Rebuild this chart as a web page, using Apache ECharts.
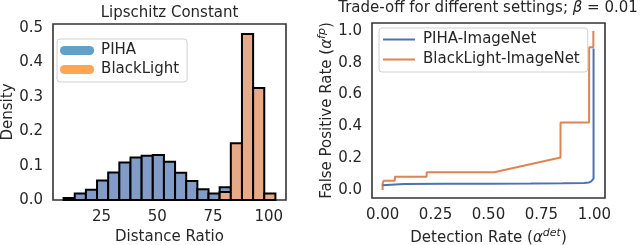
<!DOCTYPE html>
<html>
<head>
<meta charset="utf-8">
<script src="https://cdn.jsdelivr.net/npm/echarts@6/dist/echarts.min.js"></script>
<style>
html,body{margin:0;padding:0;background:#fff;}
#c{width:640px;height:245px;}
</style>
</head>
<body>
<div id="c"></div>
<script>
// ---------- Data: left histogram ----------
const binEdges = [8,13,18,23,28,33,38,43,48,53,58,63,68,73,78,83,88,93,98,103];
const pihaDensity = [0.006,0.019,0.030,0.057,0.080,0.109,0.124,0.129,0.131,0.111,0.079,0.055,0.031,0.019,0.037,0,0,0,0];
const blackLightDensity = [0,0,0,0,0,0,0,0,0,0,0,0,0,0,0.023,0.165,0.483,0.326,0.019];
const leftXTicks = [25,50,75,100];
const leftYTicks = [0,0.1,0.2,0.3,0.4,0.5];

// ---------- Data: right trade-off curves ----------
const pihaX = [0.0,0.005,0.1,0.3,0.5,0.7,0.85,0.95,0.975,0.985,0.992,0.996,0.996];
const pihaY = [0.030,0.037,0.038,0.039,0.040,0.041,0.043,0.045,0.048,0.055,0.065,0.072,0.890];
const blackX = [0.0,0.0,0.005,0.058,0.058,0.208,0.208,0.527,0.840,0.840,0.975,0.975,0.995,0.995];
const blackY = [0.0,0.040,0.058,0.058,0.083,0.083,0.112,0.112,0.205,0.425,0.425,0.897,0.897,1.0];
const rightXTicks = [0,0.25,0.5,0.75,1.0];
const rightYTicks = [0,0.2,0.4,0.6,0.8,1.0];

const FONT = 'DejaVu Sans';
const TXT = '#262626';
const FS = 15;

function histData(vals){
  return vals.map((v,i)=>[binEdges[i], binEdges[i+1], v]);
}
function pairs(xs, ys){ return xs.map((x,i)=>[x, ys[i]]); }

function histRender(fill){
  return function(params, api){
    const p0 = api.coord([api.value(0), api.value(2)]);
    const p1 = api.coord([api.value(1), 0]);
    return {
      type:'rect',
      shape:{x:p0[0], y:p0[1], width:p1[0]-p0[0], height:p1[1]-p0[1]},
      style:{fill:fill, stroke:'#000', lineWidth:2}
    };
  };
}

const chart = echarts.init(document.getElementById('c'), null, {renderer:'canvas'});

const axisCommon = {
  axisLine:{show:false}, axisTick:{show:false}, splitLine:{show:false},
  nameLocation:'middle',
  nameTextStyle:{fontFamily:FONT, fontSize:FS, color:TXT}
};

const supRich = {
  i:{fontFamily:FONT, fontSize:FS, fontStyle:'italic', color:TXT},
  sup:{fontFamily:FONT, fontSize:11, fontStyle:'italic', color:TXT, verticalAlign:'top', lineHeight:10},
  n:{fontFamily:FONT, fontSize:FS, color:TXT, lineHeight:20}
};

const option = {
  animation:false,
  backgroundColor:'#fff',
  grid:[
    {left:53, top:24, width:233, height:176, show:true, borderColor:'#333', borderWidth:1.6,
      backgroundColor:'transparent', containLabel:false, outerBoundsMode:'none'},
    {left:372, top:23, width:233, height:175, show:true, borderColor:'#333', borderWidth:1.6,
      backgroundColor:'transparent', containLabel:false, outerBoundsMode:'none'}
  ],
  xAxis:[
    Object.assign({}, axisCommon, {
      type:'value', gridIndex:0, min:3.25, max:107.75,
      name:'Distance Ratio', nameGap:29,
      axisLabel:{customValues:leftXTicks, fontFamily:FONT, fontSize:FS, color:TXT, margin:10}
    }),
    Object.assign({}, axisCommon, {
      type:'value', gridIndex:1, min:-0.05, max:1.05,
      name:'{n|Detection Rate (}{i|α}{sup|det}{n|)}', nameGap:28,
      nameTextStyle:{fontFamily:FONT, fontSize:FS, color:TXT, rich:supRich},
      axisLabel:{customValues:rightXTicks, fontFamily:FONT, fontSize:FS, color:TXT, margin:10,
        formatter:v=>v.toFixed(2)}
    })
  ],
  yAxis:[
    Object.assign({}, axisCommon, {
      type:'value', gridIndex:0, min:0, max:0.512,
      name:'Density', nameGap:36.5,
      axisLabel:{customValues:leftYTicks, fontFamily:FONT, fontSize:FS, color:TXT, margin:10,
        formatter:v=>v.toFixed(1)}
    }),
    Object.assign({}, axisCommon, {
      type:'value', gridIndex:1, min:-0.05, max:1.05,
      name:'{n|False Positive Rate (}{i|α}{sup|fp}{n|)}', nameGap:34,
      nameTextStyle:{fontFamily:FONT, fontSize:FS, color:TXT, rich:supRich},
      axisLabel:{customValues:rightYTicks, fontFamily:FONT, fontSize:FS, color:TXT, margin:10,
        formatter:v=>v.toFixed(1)}
    })
  ],
  legend:[
    {
      orient:'vertical', left:57, top:39, padding:[4,8,5,3], itemGap:4,
      itemWidth:38, itemHeight:9,
      icon:'path://M5,0 H33 A5,5 0 0 1 33,10 H5 A5,5 0 0 1 5,0 Z',
      backgroundColor:'rgba(255,255,255,0.8)', borderColor:'#d0d0d0', borderWidth:1, borderRadius:3,
      textStyle:{fontFamily:FONT, fontSize:FS, color:TXT, lineHeight:15},
      data:[
        {name:'PIHA', itemStyle:{color:'#62A0CA', borderWidth:0}},
        {name:'BlackLight', itemStyle:{color:'#FFA556', borderWidth:0}}
      ]
    },
    {
      orient:'vertical', left:379, top:28, padding:[4,8,5,4], itemGap:5,
      itemWidth:32, itemHeight:2, icon:'rect',
      backgroundColor:'rgba(255,255,255,0.8)', borderColor:'#d0d0d0', borderWidth:1, borderRadius:3,
      textStyle:{fontFamily:FONT, fontSize:FS, color:TXT, lineHeight:15, padding:[0,0,0,3]},
      data:[
        {name:'PIHA-ImageNet', itemStyle:{color:'#4C72B0'}},
        {name:'BlackLight-ImageNet', itemStyle:{color:'#DD8452'}}
      ]
    }
  ],
  graphic:[
    {type:'text', x:169.5, y:13, style:{text:'Lipschitz Constant', align:'center', verticalAlign:'middle',
      font:'15px "DejaVu Sans"', fill:TXT}},
    {type:'text', x:488, y:8, style:{
      text:'{n|Trade-off for different settings; }{i|β}{n| = 0.01}', align:'center', verticalAlign:'middle',
      font:'15px "DejaVu Sans"', fill:TXT,
      rich:{n:{font:'15px "DejaVu Sans"', fill:TXT}, i:{font:'italic 15px "DejaVu Sans"', fill:TXT}}
    }}
  ],
  series:[
    {name:'PIHA', type:'custom', xAxisIndex:0, yAxisIndex:0, renderItem:histRender('#829CC8'),
      encode:{x:[0,1], y:2}, data:histData(pihaDensity), z:2},
    {name:'BlackLight', type:'custom', xAxisIndex:0, yAxisIndex:0, renderItem:histRender('#E7A986'),
      encode:{x:[0,1], y:2}, data:histData(blackLightDensity), z:3},
    {name:'PIHA-ImageNet', type:'line', xAxisIndex:1, yAxisIndex:1, data:pairs(pihaX,pihaY),
      showSymbol:false, symbol:'none', lineStyle:{color:'#4C72B0', width:2}, itemStyle:{color:'#4C72B0'}, z:3},
    {name:'BlackLight-ImageNet', type:'line', xAxisIndex:1, yAxisIndex:1, data:pairs(blackX,blackY),
      showSymbol:false, symbol:'none', lineStyle:{color:'#DD8452', width:2}, itemStyle:{color:'#DD8452'}, z:2}
  ]
};
chart.setOption(option);
</script>
</body>
</html>
